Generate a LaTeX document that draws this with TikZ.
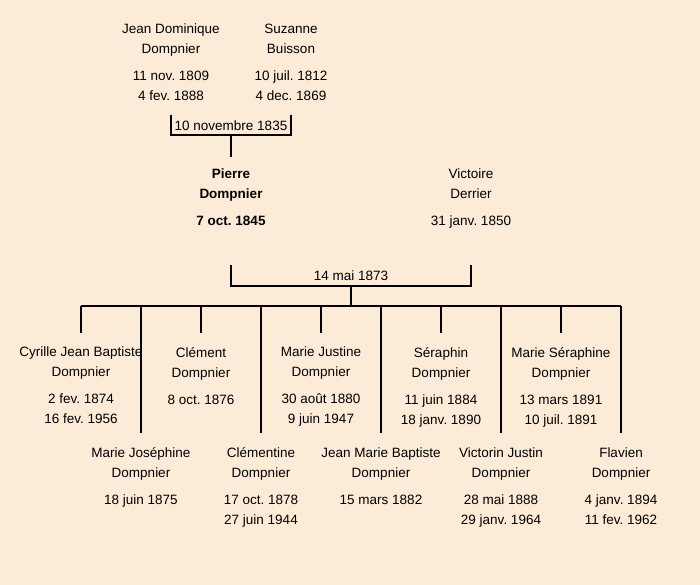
\documentclass[tikz,border=0pt]{standalone}
\usepackage{fontspec}
\setmainfont{Liberation Sans}
\definecolor{fond}{RGB}{252,235,215}
\frenchspacing
\begin{document}
\begin{tikzpicture}[x=1pt,y=-1pt,
    personne/.style={align=center,anchor=north,inner sep=0pt,
      font=\fontsize{13.5}{20}\selectfont,execute at begin node={\strut}},
    lien/.style={line width=2pt},
    mariage/.style={anchor=base,inner sep=0pt,font=\fontsize{13.5}{15}\selectfont}]
  \fill[fond] (0,0) rectangle (700,585);
  \useasboundingbox (0,0) rectangle (700,585);

  % grands-parents
  \node[personne] (jean) at (171,23.5) {Jean Dominique\\Dompnier\\[7pt]11 nov. 1809\\4 fev. 1888};
  \node[personne] (suzanne) at (291,23.5) {Suzanne\\Buisson\\[7pt]10 juil. 1812\\4 dec. 1869};
  % parents
  \node[personne,font=\fontsize{13.5}{20}\selectfont\bfseries] (pierre) at (231,169) {Pierre\\Dompnier\\[7pt]7 oct. 1845};
  \node[personne] (victoire) at (471,169) {Victoire\\Derrier\\[7pt]31 janv. 1850};

  \coordinate (m1) at (231,135);
  \draw[lien] (jean.south) ++(0,8) coordinate (j1) |- (m1) -| (suzanne.south |- j1);
  \draw[lien] (m1) -- ([yshift=12pt]pierre.north);
  \node[mariage] (d1) at (231,130.5) {10 novembre 1835};

  % enfants
  \node[personne] (c1) at (81,347) {Cyrille Jean Baptiste\\Dompnier\\[7pt]2 fev. 1874\\16 fev. 1956};
  \node[personne] (c2) at (141,447.5) {Marie Joséphine\\Dompnier\\[7pt]18 juin 1875};
  \node[personne] (c3) at (201,347) {Clément\\Dompnier\\[7pt]8 oct. 1876};
  \node[personne] (c4) at (261,447.5) {Clémentine\\Dompnier\\[7pt]17 oct. 1878\\27 juin 1944};
  \node[personne] (c5) at (321,347) {Marie Justine\\Dompnier\\[7pt]30 août 1880\\9 juin 1947};
  \node[personne] (c6) at (381,447.5) {Jean Marie Baptiste\\Dompnier\\[7pt]15 mars 1882};
  \node[personne] (c7) at (441,347) {Séraphin\\Dompnier\\[7pt]11 juin 1884\\18 janv. 1890};
  \node[personne] (c8) at (501,447.5) {Victorin Justin\\Dompnier\\[7pt]28 mai 1888\\29 janv. 1964};
  \node[personne] (c9) at (561,347) {Marie Séraphine\\Dompnier\\[7pt]13 mars 1891\\10 juil. 1891};
  \node[personne] (c10) at (621,447.5) {Flavien\\Dompnier\\[7pt]4 janv. 1894\\11 fev. 1962};

  \coordinate (m2) at (351,286);
  \coordinate (barre) at (351,306);
  \draw[lien] (pierre.south) ++(0,33) coordinate (p1) |- (m2) -| (victoire.south |- p1);
  \draw[lien] (m2) -- (barre);
  \node[mariage] (d2) at (351,280) {14 mai 1873};
  \draw[lien] (c1.north |- barre) -- (c10.north |- barre);
  \foreach \c in {c1,c3,c5,c7,c9}
    \draw[lien] (\c.north |- barre) -- ([yshift=14pt]\c.north);
  \foreach \c in {c2,c4,c6,c8,c10}
    \draw[lien] (\c.north |- barre) -- ([yshift=15pt]\c.north);
\end{tikzpicture}
\end{document}
